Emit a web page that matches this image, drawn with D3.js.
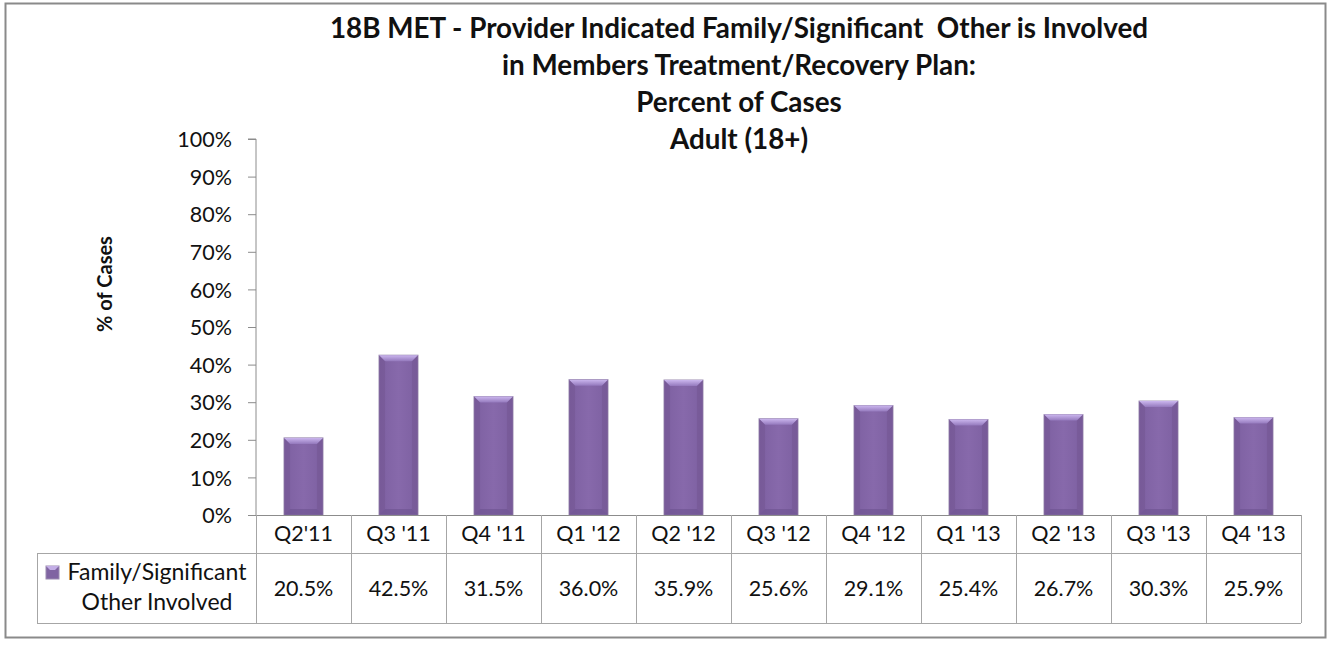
<!DOCTYPE html>
<html>
<head>
<meta charset="utf-8">
<script src="https://cdn.jsdelivr.net/npm/d3@7"></script>
<style>
  html, body { margin: 0; padding: 0; background: #ffffff; }
  svg { display: block; }
  text { font-family: Lato, "Open Sans", sans-serif; fill: #111111; }
</style>
</head>
<body>
<div id="chart"></div>
<script>
// ---- data ----
const categories = ["Q2'11", "Q3 '11", "Q4 '11", "Q1 '12", "Q2 '12", "Q3 '12", "Q4 '12", "Q1 '13", "Q2 '13", "Q3 '13", "Q4 '13"];
const values = [20.5, 42.5, 31.5, 36.0, 35.9, 25.6, 29.1, 25.4, 26.7, 30.3, 25.9];
const valueLabels = ["20.5%", "42.5%", "31.5%", "36.0%", "35.9%", "25.6%", "29.1%", "25.4%", "26.7%", "30.3%", "25.9%"];
const yTicks = [0, 10, 20, 30, 40, 50, 60, 70, 80, 90, 100];
const titleLines = ["18B MET - Provider Indicated Family/Significant  Other is Involved", "in Members Treatment/Recovery Plan:", "Percent of Cases", "Adult (18+)"];
const seriesName = ["Family/Significant", "Other Involved"];
const yAxisTitle = "% of Cases";

// ---- layout ----
const W = 1331, H = 645;
const plot = { left: 256, right: 1301, top: 139, bottom: 515 };
const table = { left: 37, headerBottom: 553, bottom: 623 };

const svg = d3.select("#chart").append("svg").attr("width", W).attr("height", H);

// outer frame
svg.append("rect").attr("x", 5.5).attr("y", 3.5).attr("width", 1320).attr("height", 634)
  .attr("fill", "#fff").attr("stroke", "#8a8a8a").attr("stroke-width", 2);

const defs = svg.append("defs");
const gTop = defs.append("linearGradient").attr("id", "bevTop").attr("x1", 0).attr("y1", 0).attr("x2", 0).attr("y2", 1);
gTop.append("stop").attr("offset", "0%").attr("stop-color", "#cbb6ee");
gTop.append("stop").attr("offset", "100%").attr("stop-color", "#9479bd");
const gMain = defs.append("linearGradient").attr("id", "barMain").attr("x1", 0).attr("y1", 0).attr("x2", 1).attr("y2", 0);
gMain.append("stop").attr("offset", "0%").attr("stop-color", "#7d60a1");
gMain.append("stop").attr("offset", "50%").attr("stop-color", "#8769ab");
gMain.append("stop").attr("offset", "100%").attr("stop-color", "#7d60a1");

// scales
const x = d3.scaleBand().domain(categories).range([plot.left, plot.right]).paddingInner(0.59).paddingOuter(0.295);
const xCell = d3.scaleBand().domain(categories).range([plot.left, plot.right]);
const y = d3.scaleLinear().domain([0, 100]).range([plot.bottom, plot.top]);

// title
const title = svg.append("g");
titleLines.forEach((t, i) => {
  title.append("text").attr("x", 739).attr("y", 38 + i * 37)
    .attr("text-anchor", "middle").attr("font-weight", "bold").attr("font-size", 27.8)
    .attr("xml:space", "preserve").style("white-space", "pre")
    .text(t);
});

// y axis
const yAxis = d3.axisLeft(y).tickValues(yTicks).tickFormat(d => d + "%").tickSize(8).tickPadding(16);
const yg = svg.append("g").attr("transform", `translate(${plot.left},0)`).call(yAxis);
yg.select(".domain").attr("stroke", "#8c8c8c").attr("d", `M-8,${plot.top}H0V${plot.bottom}`);
yg.selectAll(".tick line").attr("stroke", "#8c8c8c");
yg.selectAll(".tick text").attr("font-size", 21.5).attr("fill", "#111")
  .attr("font-family", "Lato, sans-serif").attr("dy", "0.36em");

// y axis title
svg.append("text").attr("transform", `translate(112,${284}) rotate(-90)`)
  .attr("text-anchor", "middle").attr("font-weight", "bold").attr("font-size", 20)
  .text(yAxisTitle);

// bars
const bev = 6;
const bars = svg.append("g").selectAll("g").data(categories).join("g");
bars.each(function (c, i) {
  const g = d3.select(this);
  const x0 = x(c), bw = x.bandwidth(), yt = y(values[i]), yb = y(0);
  g.append("rect").attr("x", x0).attr("y", yt).attr("width", bw).attr("height", yb - yt)
    .attr("fill", "url(#barMain)").attr("stroke", "#9a8ab0").attr("stroke-width", 1);
  g.append("path").attr("d", `M${x0},${yt}H${x0 + bw}L${x0 + bw - bev},${yt + bev}H${x0 + bev}Z`)
    .attr("fill", "url(#bevTop)");
  g.append("path").attr("d", `M${x0},${yt}L${x0 + bev},${yt + bev}V${yb - bev}L${x0},${yb}Z`)
    .attr("fill", "#71548f").attr("opacity", 0.5);
  g.append("path").attr("d", `M${x0 + bw},${yt}L${x0 + bw - bev},${yt + bev}V${yb - bev}L${x0 + bw},${yb}Z`)
    .attr("fill", "#71548f").attr("opacity", 0.5);
  g.append("path").attr("d", `M${x0},${yb}L${x0 + bev},${yb - bev}H${x0 + bw - bev}L${x0 + bw},${yb}Z`)
    .attr("fill", "#6c5190").attr("opacity", 0.6);
});

// table
const gridColor = "#a6a6a6";
const tg = svg.append("g");
tg.append("line").attr("x1", plot.left - 8).attr("x2", plot.right).attr("y1", plot.bottom + 0.5).attr("y2", plot.bottom + 0.5)
  .attr("stroke", "#8c8c8c");
tg.append("line").attr("x1", table.left).attr("x2", plot.right).attr("y1", table.headerBottom + 0.5).attr("y2", table.headerBottom + 0.5).attr("stroke", gridColor);
tg.append("line").attr("x1", table.left).attr("x2", plot.right).attr("y1", table.bottom + 0.5).attr("y2", table.bottom + 0.5).attr("stroke", gridColor);
tg.append("line").attr("x1", table.left + 0.5).attr("x2", table.left + 0.5).attr("y1", table.headerBottom).attr("y2", table.bottom).attr("stroke", gridColor);
const seps = categories.map(c => xCell(c)).concat([plot.right]);
tg.selectAll("line.sep").data(seps).join("line").attr("class", "sep")
  .attr("x1", d => Math.round(d) + 0.5).attr("x2", d => Math.round(d) + 0.5)
  .attr("y1", plot.bottom).attr("y2", table.bottom).attr("stroke", gridColor);

tg.selectAll("text.cat").data(categories).join("text").attr("class", "cat")
  .attr("x", d => xCell(d) + xCell.bandwidth() / 2).attr("y", 541)
  .attr("text-anchor", "middle").attr("font-size", 21.5).text(d => d);

tg.selectAll("text.val").data(categories).join("text").attr("class", "val")
  .attr("x", d => xCell(d) + xCell.bandwidth() / 2).attr("y", 596)
  .attr("text-anchor", "middle").attr("font-size", 21.5).text((d, i) => valueLabels[i]);

// legend key
tg.append("rect").attr("x", 46).attr("y", 566).attr("width", 13).attr("height", 13)
  .attr("fill", "#8064a2").attr("stroke", "#9a8ab0");
tg.append("path").attr("d", "M46,566H59L55,570H50Z").attr("fill", "#c3aee6");
tg.append("text").attr("x", 157).attr("y", 580).attr("text-anchor", "middle").attr("font-size", 23).text(seriesName[0]);
tg.append("text").attr("x", 157).attr("y", 610).attr("text-anchor", "middle").attr("font-size", 23).text(seriesName[1]);
</script>
</body>
</html>
